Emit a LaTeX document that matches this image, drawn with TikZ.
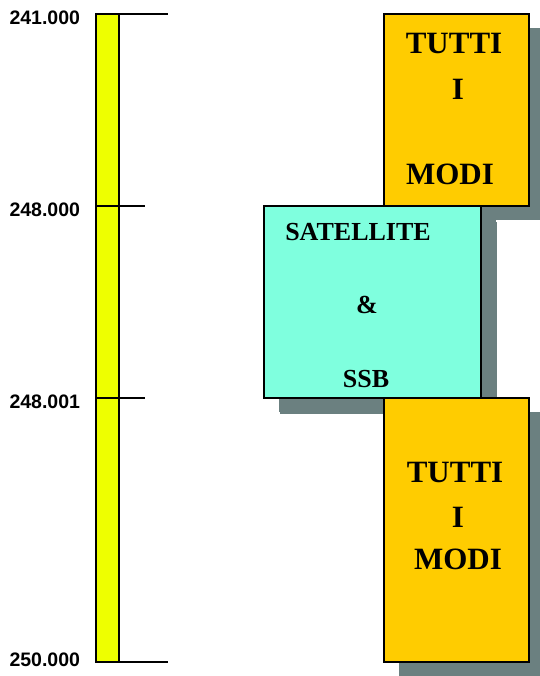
\documentclass[tikz,border=0pt]{standalone}
\usepackage{fontspec}
\setmainfont{Liberation Serif}
\newfontfamily\freqfont{Liberation Sans}
\definecolor{bandyellow}{RGB}{238,255,0}
\definecolor{modeorange}{RGB}{255,204,0}
\definecolor{sataqua}{RGB}{127,255,222}
\definecolor{shadowgray}{RGB}{107,128,128}
\usetikzlibrary{positioning,shadows}

\begin{document}
\begin{tikzpicture}[
  x=1pt, y=-1pt,
  segbox/.style={
    rectangle, draw=black, line width=1.5pt, inner sep=0pt,
    general shadow={fill=shadowgray, shadow xshift=15pt, shadow yshift=-14pt}
  },
  bigtxt/.style={font=\fontsize{31}{31}\selectfont\bfseries},
  midtxt/.style={font=\fontsize{26}{26}\selectfont\bfseries},
  freqlbl/.style={font=\fontsize{19.5}{19.5}\selectfont\freqfont\bfseries, anchor=west},
  tickline/.style={line width=1.2pt}
]
\useasboundingbox (0,0) rectangle (539,676);

% frequency band
\node[draw=black, line width=1.2pt, fill=bandyellow, inner sep=0pt,
  minimum width=23pt, minimum height=648pt] (band) at (107.5,338) {};
\draw[tickline] (96,14) -- (168,14);
\draw[tickline] (96,662) -- (168,662);
\foreach \yy in {206,398}
  \draw[tickline] (96,\yy) -- (145,\yy);

\node[freqlbl] (f1) at (6,18)  {241.000};
\node[freqlbl] (f2) at (6,210) {248.000};
\node[freqlbl] (f3) at (6,402) {248.001};
\node[freqlbl] (f4) at (6,660) {250.000};

% segments
\node[segbox, fill=modeorange, minimum width=145pt, minimum height=192pt] (seg1) at (456.5,110) {};
\node[segbox, fill=sataqua, minimum width=217pt, minimum height=192pt,
  general shadow={fill=shadowgray, shadow xshift=16pt, shadow yshift=-16pt}] (seg2) at (372.5,302) {};
\node[segbox, fill=modeorange, minimum width=145pt, minimum height=264pt] (seg3) at (456.5,530) {};

\node[bigtxt] (t1a) at (454,43)  {TUTTI};
\node[bigtxt] (t1b) at (458,89)  {I};
\node[bigtxt] (t1c) at (450,174) {MODI};

\node[midtxt] (s2a) at (358,232) {SATELLITE};
\node[midtxt] (s2b) at (367,305) {\&};
\node[midtxt] (s2c) at (366,379) {SSB};

\node[bigtxt] (t3a) at (455,472) {TUTTI};
\node[bigtxt] (t3b) at (458,517) {I};
\node[bigtxt] (t3c) at (458,559) {MODI};
\end{tikzpicture}
\end{document}
